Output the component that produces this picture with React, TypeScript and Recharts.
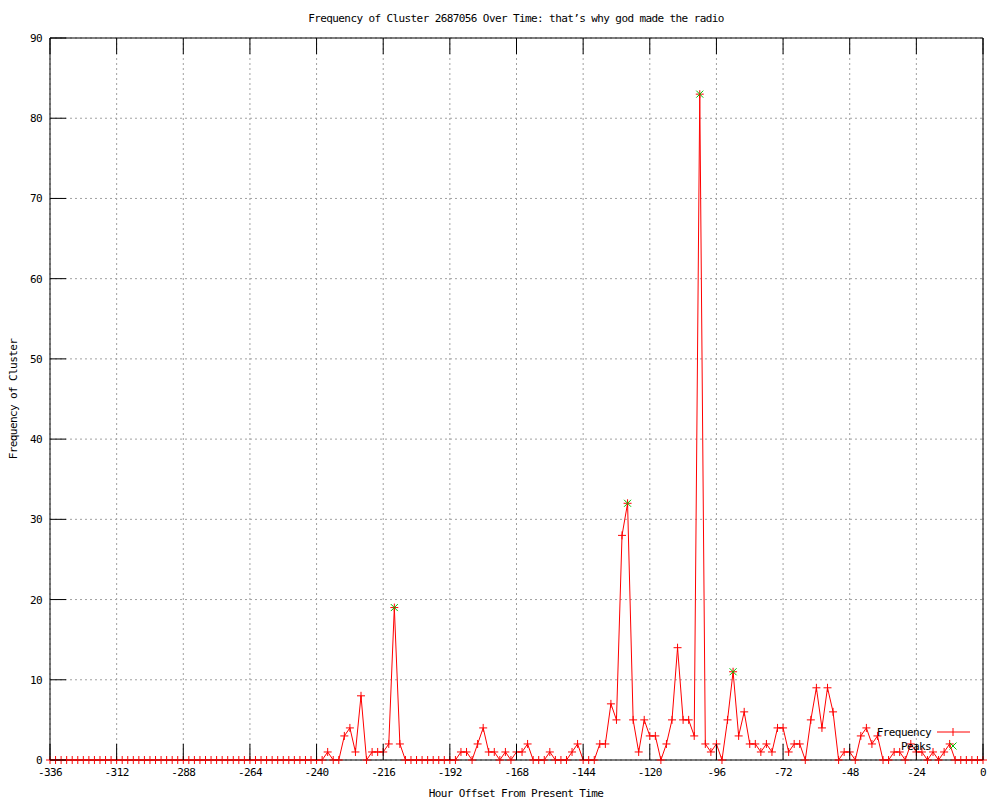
import React from 'react'
import { LineChart, Line, XAxis, YAxis, CartesianGrid } from 'recharts'

// hour offsets (every 2 hours)
const hours = [
  -336, -334, -332, -330, -328, -326, -324, -322, -320, -318, -316, -314,
  -312, -310, -308, -306, -304, -302, -300, -298, -296, -294, -292, -290,
  -288, -286, -284, -282, -280, -278, -276, -274, -272, -270, -268, -266,
  -264, -262, -260, -258, -256, -254, -252, -250, -248, -246, -244, -242,
  -240, -238, -236, -234, -232, -230, -228, -226, -224, -222, -220, -218,
  -216, -214, -212, -210, -208, -206, -204, -202, -200, -198, -196, -194,
  -192, -190, -188, -186, -184, -182, -180, -178, -176, -174, -172, -170,
  -168, -166, -164, -162, -160, -158, -156, -154, -152, -150, -148, -146,
  -144, -142, -140, -138, -136, -134, -132, -130, -128, -126, -124, -122,
  -120, -118, -116, -114, -112, -110, -108, -106, -104, -102, -100, -98,
  -96, -94, -92, -90, -88, -86, -84, -82, -80, -78, -76, -74,
  -72, -70, -68, -66, -64, -62, -60, -58, -56, -54, -52, -50,
  -48, -46, -44, -42, -40, -38, -36, -34, -32, -30, -28, -26,
  -24, -22, -20, -18, -16, -14, -12, -10, -8, -6, -4, -2,
  0,
]

const frequency = [
  0, 0, 0, 0, 0, 0, 0, 0, 0, 0, 0, 0,
  0, 0, 0, 0, 0, 0, 0, 0, 0, 0, 0, 0,
  0, 0, 0, 0, 0, 0, 0, 0, 0, 0, 0, 0,
  0, 0, 0, 0, 0, 0, 0, 0, 0, 0, 0, 0,
  0, 0, 1, 0, 0, 3, 4, 1, 8, 0, 1, 1,
  1, 2, 19, 2, 0, 0, 0, 0, 0, 0, 0, 0,
  0, 0, 1, 1, 0, 2, 4, 1, 1, 0, 1, 0,
  1, 1, 2, 0, 0, 0, 1, 0, 0, 0, 1, 2,
  0, 0, 0, 2, 2, 7, 5, 28, 32, 5, 1, 5,
  3, 3, 0, 2, 5, 14, 5, 5, 3, 83, 2, 1,
  2, 0, 5, 11, 3, 6, 2, 2, 1, 2, 1, 4,
  4, 1, 2, 2, 0, 5, 9, 4, 9, 6, 0, 1,
  1, 0, 3, 4, 2, 3, 0, 0, 1, 1, 0, 2,
  1, 1, 0, 1, 0, 1, 2, 0, 0, 0, 0, 0,
  0,
]

const peakHours = [-212, -128, -102, -90]
const peakValues = [19, 32, 83, 11]

const xTicks = [-336, -312, -288, -264, -240, -216, -192, -168, -144, -120, -96, -72, -48, -24, 0]
const yTicks = [0, 10, 20, 30, 40, 50, 60, 70, 80, 90]

const rows = hours.map((hour, i) => ({ hour, freq: frequency[i] }))
const peakRows = peakHours.map((hour, i) => ({ hour, peak: peakValues[i] }))

const FONT = '"DejaVu Sans Mono", monospace'
const textStyle = { fontFamily: FONT, fontSize: 11, letterSpacing: -0.6, fill: '#000' }
const TIC = 16
const RED = '#ff0000'
const GREEN = '#00c000'

function PlusDot(props: any) {
  const { cx, cy } = props
  if (cx == null || cy == null) return null
  return (
    <path
      d={`M${cx - 4},${cy}H${cx + 4}M${cx},${cy - 4}V${cy + 4}`}
      stroke={RED}
      strokeWidth={1}
      fill="none"
    />
  )
}

function CrossDot(props: any) {
  const { cx, cy } = props
  if (cx == null || cy == null) return null
  return (
    <path
      d={`M${cx - 3.5},${cy - 3.5}L${cx + 3.5},${cy + 3.5}M${cx - 3.5},${cy + 3.5}L${cx + 3.5},${cy - 3.5}`}
      stroke={GREEN}
      strokeWidth={1}
      fill="none"
    />
  )
}

function BottomTick({ x, y, payload }: any) {
  return (
    <g>
      <line x1={x} y1={y} x2={x} y2={y - TIC} stroke="#000" />
      <text x={x} y={y + 16} textAnchor="middle" style={textStyle}>
        {payload.value}
      </text>
    </g>
  )
}

function TopTick({ x, y }: any) {
  return <line x1={x} y1={y} x2={x} y2={y + TIC} stroke="#000" />
}

function LeftTick({ x, y, payload }: any) {
  return (
    <g>
      <line x1={x} y1={y} x2={x + TIC} y2={y} stroke="#000" />
      <text x={x - 8} y={y + 4} textAnchor="end" style={textStyle}>
        {payload.value}
      </text>
    </g>
  )
}

function RightTick({ x, y }: any) {
  return <line x1={x} y1={y} x2={x - TIC} y2={y} stroke="#000" />
}

export default function App() {
  return (
    <div style={{ position: 'absolute', left: 0, top: 0, width: 1000, height: 800, background: '#fff' }}>
      <LineChart
        width={1000}
        height={800}
        data={rows}
        margin={{ top: 37, right: 16, bottom: 39, left: 49 }}
      >
        <CartesianGrid stroke="#a0a0a0" strokeDasharray="2 3" />
        <Line
          type="linear"
          dataKey="freq"
          stroke={RED}
          strokeWidth={1}
          dot={<PlusDot />}
          activeDot={false}
          isAnimationActive={false}
        />
        <Line
          data={peakRows}
          type="linear"
          dataKey="peak"
          stroke="none"
          dot={<CrossDot />}
          activeDot={false}
          isAnimationActive={false}
        />
        <XAxis
          dataKey="hour"
          type="number"
          domain={[-336, 0]}
          ticks={xTicks}
          interval={0}
          height={1}
          tickSize={0}
          tickMargin={0}
          tickLine={false}
          axisLine={{ stroke: '#000' }}
          tick={<BottomTick />}
        />
        <XAxis
          xAxisId="top"
          orientation="top"
          dataKey="hour"
          type="number"
          domain={[-336, 0]}
          ticks={xTicks}
          interval={0}
          height={1}
          tickSize={0}
          tickMargin={0}
          tickLine={false}
          axisLine={{ stroke: '#000' }}
          tick={<TopTick />}
        />
        <YAxis
          type="number"
          domain={[0, 90]}
          ticks={yTicks}
          interval={0}
          width={1}
          tickSize={0}
          tickMargin={0}
          tickLine={false}
          axisLine={{ stroke: '#000' }}
          tick={<LeftTick />}
        />
        <YAxis
          yAxisId="r"
          orientation="right"
          type="number"
          domain={[0, 90]}
          ticks={yTicks}
          interval={0}
          width={1}
          tickSize={0}
          tickMargin={0}
          tickLine={false}
          axisLine={{ stroke: '#000' }}
          tick={<RightTick />}
        />
      </LineChart>
      <svg
        width={1000}
        height={800}
        style={{ position: 'absolute', left: 0, top: 0, pointerEvents: 'none' }}
      >
        <text x={516} y={22} textAnchor="middle" style={textStyle}>
          Frequency of Cluster 2687056 Over Time: that’s why god made the radio
        </text>
        <text x={516} y={797} textAnchor="middle" style={textStyle}>
          Hour Offset From Present Time
        </text>
        <text x={17} y={399} textAnchor="middle" transform="rotate(-90, 17, 399)" style={textStyle}>
          Frequency of Cluster
        </text>
        <text x={931} y={736} textAnchor="end" style={textStyle}>
          Frequency
        </text>
        <line x1={937} y1={732} x2={970} y2={732} stroke={RED} />
        <path d="M953,728V736" stroke={RED} />
        <text x={931} y={750} textAnchor="end" style={textStyle}>
          Peaks
        </text>
        <path d="M949.5,742.5L956.5,749.5M949.5,749.5L956.5,742.5" stroke={GREEN} />
      </svg>
    </div>
  )
}
